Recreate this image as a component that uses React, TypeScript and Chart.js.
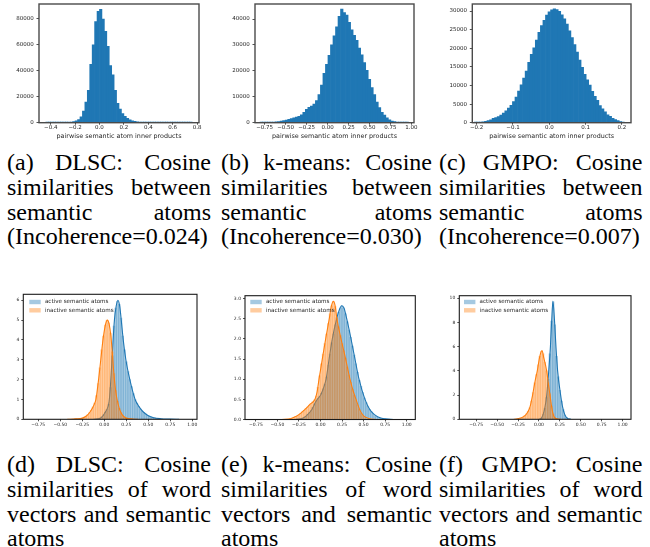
import { useEffect, useRef } from 'react';
import { Chart, registerables } from 'chart.js';

Chart.register(...registerables);

// ================= DATA =================
// (a) DLSC pairwise semantic atom inner products (bin centres start / width, counts)
const histAStart = -0.43;
const histAWidth = 0.02;
const histACounts = [
  200, 150, 150, 180, 200, 220, 260, 300, 340, 400,
  500, 800, 1500, 2400, 4500, 9000, 16000, 25000, 45000, 60000,
  78000, 86000, 87500, 80000, 70500, 59000, 44000, 37000, 25000, 15000,
  10500, 7000, 4900, 3300, 2200, 1500, 1000, 700, 500, 380,
  300, 250, 210, 180, 160, 140, 130, 120, 110, 100,
  100, 90, 90, 80, 80, 70, 70, 60, 60, 60,
];

// (b) k-means
const histBStart = -0.79;
const histBWidth = 0.03;
const histBCounts = [
  80, 100, 120, 150, 180, 250, 320, 450, 600, 800,
  1000, 1300, 1600, 1900, 2200, 2500, 3000, 4000, 5200, 5900,
  6400, 7200, 8500, 10800, 14500, 19000, 22500, 26000, 30000, 33500,
  37000, 41000, 43800, 42500, 41500, 38700, 35800, 33700, 31800, 28800,
  26200, 23200, 20200, 16700, 13500, 10800, 8000, 5800, 4000, 2900,
  1900, 1100, 650, 400, 250, 180, 130, 100, 80,
];

// (c) GMPO
const histCStart = -0.203;
const histCWidth = 0.007;
const histCCounts = [
  100, 120, 180, 250, 380, 560, 800, 1150, 1400, 1650,
  2050, 2600, 3200, 3900, 4700, 5700, 6900, 8500, 10200, 12000,
  13900, 16200, 18400, 20100, 22200, 24300, 26100, 27500, 28900, 29800,
  30300, 30600, 30400, 29900, 29000, 27900, 26500, 24700, 22900, 21000,
  19000, 16800, 14900, 13000, 11500, 10100, 8400, 7100, 6000, 4600,
  3700, 2900, 2100, 1700, 1200, 850, 550, 300, 150,
];

// (d) DLSC word vectors vs semantic atoms (density histograms + kde)
const histDStart = -0.33;
const histDWidth = 0.02;
const histDActiveFirst = 12;
const histDActive = [
  0.02, 0.03, 0.06, 0.12, 0.22, 0.35, 0.5, 0.75, 1.6, 3.2,
  4.7, 5.6, 5.95, 5.8, 5.1, 4.2, 3.5, 2.9, 2.4, 2.0,
  1.65, 1.3, 1.0, 0.82, 0.65, 0.52, 0.42, 0.34, 0.26, 0.2,
  0.16, 0.12, 0.09, 0.07, 0.05, 0.04, 0.03, 0.02,
];
const histDInactiveFirst = 0;
const histDInactive = [
  0.01, 0.02, 0.02, 0.03, 0.05, 0.08, 0.14, 0.22, 0.32, 0.45,
  0.62, 0.82, 1.2, 1.8, 2.6, 3.5, 4.2, 4.75, 5.0, 4.85,
  4.35, 3.4, 2.3, 1.45, 0.9, 0.55, 0.33, 0.18, 0.1, 0.06,
  0.04, 0.02, 0.01,
];
const kdeDActiveX = [-0.12, -0.06, -0.02, 0.01, 0.035, 0.055, 0.07, 0.085, 0.1, 0.115, 0.135, 0.155, 0.175, 0.195, 0.215, 0.245, 0.29, 0.35, 0.4, 0.44, 0.5, 0.56, 0.64, 0.75, 0.85];
const kdeDActiveY = [0, 0.03, 0.15, 0.35, 0.55, 0.9, 1.7, 2.8, 4.0, 5.0, 5.7, 6.0, 5.7, 4.9, 4.0, 3.0, 2.0, 1.0, 0.6, 0.38, 0.18, 0.08, 0.03, 0.01, 0];
const kdeDInactiveX = [-0.42, -0.32, -0.25, -0.2, -0.16, -0.12, -0.095, -0.065, -0.04, -0.015, 0.01, 0.034, 0.055, 0.075, 0.09, 0.1, 0.115, 0.13, 0.145, 0.17, 0.2, 0.24, 0.3, 0.38];
const kdeDInactiveY = [0, 0.02, 0.06, 0.18, 0.38, 0.7, 1.0, 2.0, 3.0, 4.0, 4.7, 5.0, 4.8, 4.2, 3.4, 2.8, 2.0, 1.4, 1.0, 0.55, 0.25, 0.08, 0.02, 0];

// (e) k-means
const histEStart = -0.35;
const histEWidth = 0.02;
const histEActiveFirst = 6;
const histEActive = [
  0.02, 0.03, 0.05, 0.08, 0.12, 0.17, 0.22, 0.3, 0.38, 0.46,
  0.52, 0.57, 0.65, 0.76, 0.88, 1.05, 1.35, 1.62, 1.9, 2.12,
  2.35, 2.52, 2.66, 2.76, 2.82, 2.77, 2.62, 2.42, 2.22, 2.04,
  1.82, 1.6, 1.38, 1.17, 0.97, 0.82, 0.67, 0.53, 0.42, 0.33,
  0.25, 0.19, 0.14, 0.1, 0.07, 0.05, 0.04, 0.03, 0.02, 0.015,
  0.01, 0.01,
];
const histEInactiveFirst = 0;
const histEInactive = [
  0.02, 0.03, 0.05, 0.07, 0.09, 0.12, 0.15, 0.19, 0.23, 0.27,
  0.31, 0.35, 0.39, 0.44, 0.49, 0.58, 0.8, 1.08, 1.38, 1.62,
  1.88, 2.12, 2.38, 2.62, 2.82, 2.92, 2.8, 2.52, 2.3, 2.08,
  1.88, 1.7, 1.52, 1.3, 1.1, 0.92, 0.75, 0.6, 0.48, 0.36,
  0.25, 0.16, 0.1, 0.05,
];
const kdeEActiveX = [-0.3, -0.2, -0.15, -0.1, -0.06, -0.03, 0.0, 0.03, 0.065, 0.1, 0.137, 0.188, 0.215, 0.246, 0.275, 0.304, 0.354, 0.4, 0.447, 0.516, 0.58, 0.67, 0.75, 0.85];
const kdeEActiveY = [0, 0.04, 0.12, 0.25, 0.42, 0.52, 0.6, 0.75, 1.0, 1.5, 2.0, 2.5, 2.7, 2.82, 2.75, 2.5, 2.0, 1.5, 1.0, 0.5, 0.22, 0.06, 0.015, 0];
const kdeEInactiveX = [-0.45, -0.35, -0.3, -0.25, -0.18, -0.12, -0.064, -0.04, -0.017, 0.021, 0.06, 0.102, 0.125, 0.149, 0.17, 0.19, 0.238, 0.292, 0.342, 0.38, 0.42, 0.46, 0.5, 0.56, 0.65];
const kdeEInactiveY = [0, 0.02, 0.06, 0.12, 0.25, 0.38, 0.5, 0.68, 1.0, 1.5, 2.0, 2.5, 2.8, 2.93, 2.82, 2.5, 2.0, 1.5, 1.0, 0.7, 0.45, 0.22, 0.09, 0.025, 0];

// (f) GMPO
const histFStart = -0.25;
const histFWidth = 0.02;
const histFActiveFirst = 14;
const histFActive = [0.1, 0.4, 0.9, 1.8, 3.3, 5.4, 8.1, 9.7, 7.8, 5.2, 3.5, 2.4, 1.5, 0.8, 0.35, 0.15, 0.06, 0.02];
const histFInactiveFirst = 0;
const histFInactive = [
  0.03, 0.06, 0.1, 0.18, 0.3, 0.45, 0.65, 0.95, 1.5, 2.2,
  3.0, 3.7, 4.5, 5.2, 5.6, 5.4, 4.7, 4.0, 3.0, 2.1,
  1.1, 0.45, 0.15, 0.05, 0.02,
];
const kdeFActiveX = [0.0, 0.03, 0.05, 0.072, 0.093, 0.117, 0.137, 0.151, 0.167, 0.187, 0.203, 0.223, 0.259, 0.283, 0.31, 0.34, 0.38];
const kdeFActiveY = [0, 0.1, 0.4, 1.0, 2.0, 4.0, 6.0, 8.0, 9.75, 8.0, 6.0, 4.0, 2.0, 1.0, 0.35, 0.08, 0];
const kdeFInactiveX = [-0.3, -0.22, -0.167, -0.13, -0.108, -0.076, -0.045, -0.02, 0.01, 0.036, 0.06, 0.092, 0.115, 0.132, 0.152, 0.17, 0.19, 0.22, 0.26];
const kdeFInactiveY = [0, 0.1, 0.3, 0.65, 1.0, 2.0, 3.2, 4.0, 5.2, 5.67, 5.0, 4.0, 2.8, 2.0, 1.0, 0.4, 0.12, 0.02, 0];

// tick values
const ticksAX = [-0.4, -0.2, 0, 0.2, 0.4, 0.6, 0.8];
const ticksAY = [0, 20000, 40000, 60000, 80000];
const ticksBX = [-0.75, -0.5, -0.25, 0, 0.25, 0.5, 0.75, 1.0];
const ticksBY = [0, 10000, 20000, 30000, 40000];
const ticksCX = [-0.2, -0.1, 0, 0.1, 0.2];
const ticksCY = [0, 5000, 10000, 15000, 20000, 25000, 30000];
const ticksBottomX = [-0.75, -0.5, -0.25, 0, 0.25, 0.5, 0.75, 1.0];
const ticksDY = [0, 1, 2, 3, 4, 5, 6];
const ticksEY = [0, 0.5, 1, 1.5, 2, 2.5, 3];
const ticksFY = [0, 2, 4, 6, 8, 10];

const xTitleTop = 'pairwise semantic atom inner products';
const legendLabels = ['active semantic atoms', 'inactive semantic atoms'];

const captionsTop = [
  ['(a) DLSC: Cosine', 'similarities between', 'semantic atoms', '(Incoherence=0.024)'],
  ['(b) k-means: Cosine', 'similarities between', 'semantic atoms', '(Incoherence=0.030)'],
  ['(c) GMPO: Cosine', 'similarities between', 'semantic atoms', '(Incoherence=0.007)'],
];
const captionsBottom = [
  ['(d) DLSC: Cosine', 'similarities of word', 'vectors and semantic', 'atoms'],
  ['(e) k-means: Cosine', 'similarities of word', 'vectors and semantic', 'atoms'],
  ['(f) GMPO: Cosine', 'similarities of word', 'vectors and semantic', 'atoms'],
];

// ================= STYLE =================
const BLUE = '#1f77b4';
const ORANGE = '#ff7f0e';
const BLUE_A = 'rgba(31,119,180,0.4)';
const ORANGE_A = 'rgba(255,127,14,0.4)';
const TXT = '#262626';
const FONT = "'DejaVu Sans', sans-serif";

const binCenter = (start: number, width: number, idx: number) =>
  Math.round((start + idx * width) * 1e6) / 1e6;

const toBars = (start: number, width: number, first: number, vals: number[]) =>
  vals.map((v, i) => ({ x: binCenter(start, width, first + i), y: v }));

const toPts = (xs: number[], ys: number[]) => xs.map((x, i) => ({ x, y: ys[i] }));

const fmt = (v: number, dec: number) => {
  const s = Math.abs(v).toFixed(dec);
  return (v < -1e-9 ? '\u2212' : '') + s;
};

const makeFrame = (color: string, width: number) => ({
  id: 'frame',
  afterDraw(chart: any) {
    const { ctx, chartArea } = chart;
    ctx.save();
    ctx.strokeStyle = color;
    ctx.lineWidth = width;
    ctx.strokeRect(chartArea.left, chartArea.top, chartArea.right - chartArea.left, chartArea.bottom - chartArea.top);
    ctx.restore();
  },
});

const makeLegend = (dx: number, dy: number) => ({
  id: 'inlegend',
  afterDraw(chart: any) {
    const { ctx, chartArea } = chart;
    const items = chart.data.datasets.filter((d: any) => d.isHist);
    ctx.save();
    ctx.font = `5.6px ${FONT}`;
    ctx.textBaseline = 'middle';
    ctx.textAlign = 'left';
    items.forEach((d: any, i: number) => {
      const cy = chartArea.top + dy + i * 8.3;
      const x = chartArea.left + dx;
      ctx.fillStyle = d.backgroundColor;
      ctx.fillRect(x, cy - 2.2, 11.4, 4.4);
      ctx.fillStyle = TXT;
      ctx.fillText(d.label, x + 15.6, cy);
    });
    ctx.restore();
  },
});

function xScale(o: any) {
  return {
    type: 'linear',
    min: o.min,
    max: o.max,
    offset: false,
    bounds: 'data',
    afterBuildTicks: (s: any) => {
      s.ticks = o.ticks.map((v: number) => ({ value: v }));
    },
    afterFit: (s: any) => {
      s.height = o.height;
      s.paddingLeft = 0;
      s.paddingRight = 0;
      s.paddingTop = 0;
      s.paddingBottom = 0;
    },
    ticks: {
      autoSkip: false,
      maxRotation: 0,
      minRotation: 0,
      padding: o.pad,
      color: TXT,
      font: { family: FONT, size: o.font, lineHeight: 1 },
      callback: (v: number) => fmt(v, o.dec),
    },
    grid: { display: true, offset: false, drawOnChartArea: false, drawTicks: true, tickLength: o.tick, tickColor: TXT, tickWidth: 0.8 },
    border: { display: false },
    title: o.title
      ? { display: true, text: o.title, color: TXT, font: { family: FONT, size: 6.4, lineHeight: 1.2 }, padding: { top: 0, bottom: o.titlePad } }
      : { display: false },
  };
}

function yScale(o: any) {
  return {
    type: 'linear',
    min: 0,
    max: o.max,
    bounds: 'data',
    afterBuildTicks: (s: any) => {
      s.ticks = o.ticks.map((v: number) => ({ value: v }));
    },
    afterFit: (s: any) => {
      s.width = o.width;
      s.paddingLeft = 0;
      s.paddingRight = 0;
      s.paddingTop = 0;
      s.paddingBottom = 0;
    },
    ticks: {
      autoSkip: false,
      padding: o.pad,
      color: TXT,
      font: { family: FONT, size: o.font, lineHeight: 1 },
      callback: (v: number) => fmt(v, o.dec),
    },
    grid: { display: true, drawOnChartArea: false, drawTicks: true, tickLength: o.tick, tickColor: TXT, tickWidth: 0.8 },
    border: { display: false },
  };
}

function topConfig(p: any) {
  return {
    type: 'bar',
    data: {
      datasets: [
        {
          label: 'counts',
          data: toBars(p.start, p.width, 0, p.counts),
          backgroundColor: BLUE,
          borderWidth: 0,
          barPercentage: 1,
          categoryPercentage: 1,
          grouped: false,
        },
      ],
    },
    options: {
      animation: false,
      responsive: false,
      events: [],
      layout: { padding: { left: 0, top: p.padTop, right: p.padRight, bottom: 0 } },
      plugins: { legend: { display: false }, tooltip: { enabled: false } },
      scales: {
        x: xScale({ min: p.xmin, max: p.xmax, ticks: p.xticks, dec: p.xdec, height: p.xh, pad: 0, tick: 2, font: 5.5, title: xTitleTop, titlePad: 4.6 }),
        y: yScale({ max: p.ymax, ticks: p.yticks, dec: 0, width: p.yw, pad: 2.8, tick: 2.5, font: 5.5 }),
      },
    },
    plugins: [makeFrame('#4a4a4a', 1.4)],
  };
}

function bottomConfig(p: any) {
  return {
    type: 'bar',
    data: {
      datasets: [
        {
          label: legendLabels[0],
          isHist: true,
          data: toBars(p.start, p.width, p.aFirst, p.aHist),
          backgroundColor: BLUE_A,
          borderWidth: 0,
          barPercentage: 1,
          categoryPercentage: 1,
          grouped: false,
          order: 4,
        },
        {
          type: 'line',
          label: 'active kde',
          data: toPts(p.aKx, p.aKy),
          borderColor: BLUE,
          borderWidth: 1.1,
          pointRadius: 0,
          fill: false,
          cubicInterpolationMode: 'monotone',
          order: 3,
        },
        {
          label: legendLabels[1],
          isHist: true,
          data: toBars(p.start, p.width, p.iFirst, p.iHist),
          backgroundColor: ORANGE_A,
          borderWidth: 0,
          barPercentage: 1,
          categoryPercentage: 1,
          grouped: false,
          order: 2,
        },
        {
          type: 'line',
          label: 'inactive kde',
          data: toPts(p.iKx, p.iKy),
          borderColor: ORANGE,
          borderWidth: 1.1,
          pointRadius: 0,
          fill: false,
          cubicInterpolationMode: 'monotone',
          order: 1,
        },
      ],
    },
    options: {
      animation: false,
      responsive: false,
      events: [],
      layout: { padding: { left: 0, top: p.padTop, right: p.padRight, bottom: 0 } },
      plugins: { legend: { display: false }, tooltip: { enabled: false } },
      scales: {
        x: xScale({ min: p.xmin, max: p.xmax, ticks: ticksBottomX, dec: 2, height: p.xh, pad: 1.4, tick: 2, font: 4.5 }),
        y: yScale({ max: p.ymax, ticks: p.yticks, dec: p.ydec, width: p.yw, pad: 2, tick: 2, font: 4.5 }),
      },
    },
    plugins: [makeFrame('#1a1a1a', 1.1), makeLegend(p.lx, p.ly)],
  };
}

// ================= LAYOUT =================
const topPanels = [
  { left: 0, w: 215, start: histAStart, width: histAWidth, counts: histACounts, xmin: -0.496, xmax: 0.816, xticks: ticksAX, xdec: 1, ymax: 91570, yticks: ticksAY, yw: 39, padRight: 16 },
  { left: 215, w: 215, start: histBStart, width: histBWidth, counts: histBCounts, xmin: -0.865, xmax: 1.031, xticks: ticksBX, xdec: 2, ymax: 45790, yticks: ticksBY, yw: 40, padRight: 16 },
  { left: 430, w: 220, start: histCStart, width: histCWidth, counts: histCCounts, xmin: -0.212, xmax: 0.225, xticks: ticksCX, xdec: 1, ymax: 31900, yticks: ticksCY, yw: 42.3, padRight: 19 },
];
const TOP_H = 145;

const bottomPanels = [
  {
    left: 0, w: 215, start: histDStart, width: histDWidth,
    aFirst: histDActiveFirst, aHist: histDActive, iFirst: histDInactiveFirst, iHist: histDInactive,
    aKx: kdeDActiveX, aKy: kdeDActiveY, iKx: kdeDInactiveX, iKy: kdeDInactiveY,
    xmin: -0.92, xmax: 1.053, ymax: 6.3, yticks: ticksDY, ydec: 0,
    yw: 23.3, padRight: 18, padTop: 9.3, xh: 20.7, lx: 6, ly: 7.7,
  },
  {
    left: 215, w: 215, start: histEStart, width: histEWidth,
    aFirst: histEActiveFirst, aHist: histEActive, iFirst: histEInactiveFirst, iHist: histEInactive,
    aKx: kdeEActiveX, aKy: kdeEActiveY, iKx: kdeEInactiveX, iKy: kdeEInactiveY,
    xmin: -0.876, xmax: 1.1, ymax: 3.07, yticks: ticksEY, ydec: 1,
    yw: 30, padRight: 14.7, padTop: 10.7, xh: 20.5, lx: 5.3, ly: 6.3,
  },
  {
    left: 430, w: 220, start: histFStart, width: histFWidth,
    aFirst: histFActiveFirst, aHist: histFActive, iFirst: histFInactiveFirst, iHist: histFInactive,
    aKx: kdeFActiveX, aKy: kdeFActiveY, iKx: kdeFInactiveX, iKy: kdeFInactiveY,
    xmin: -0.952, xmax: 1.1, ymax: 10.2, yticks: ticksFY, ydec: 0,
    yw: 29.3, padRight: 19, padTop: 10.7, xh: 20.7, lx: 4.7, ly: 6.3,
  },
];
const BOTTOM_TOP = 285;
const BOTTOM_H = 155;

const captionCols = [
  { left: 7, width: 204 },
  { left: 221, width: 211 },
  { left: 439, width: 203.5 },
];
const LINE_H = 24.7;
const CAP_TOP_Y = 162.7;
const CAP_BOTTOM_Y = 464.8;

function ChartBox({ left, top, width, height, build }: any) {
  const ref = useRef<HTMLCanvasElement>(null);
  useEffect(() => {
    const chart = new Chart(ref.current as HTMLCanvasElement, build() as any);
    return () => chart.destroy();
  }, []);
  return (
    <canvas
      ref={ref}
      width={width}
      height={height}
      style={{ position: 'absolute', left, top, width, height, display: 'block' }}
    />
  );
}

function Caption({ left, width, centerY, lines }: any) {
  return (
    <>
      {lines.map((t: string, i: number) => (
        <div
          key={i}
          style={{
            position: 'absolute',
            left,
            top: centerY + i * LINE_H - 12.5,
            width,
            height: 25,
            lineHeight: '25px',
            fontSize: 24,
            fontFamily: "'Liberation Serif', 'Times New Roman', serif",
            color: '#000',
            textAlign: 'justify',
            textAlignLast: i < lines.length - 1 ? 'justify' : 'left',
            whiteSpace: 'normal',
          }}
        >
          {t}
        </div>
      ))}
    </>
  );
}

export default function App() {
  return (
    <div style={{ position: 'absolute', left: 0, top: 0, width: 650, height: 547, background: '#fff', overflow: 'hidden' }}>
      {topPanels.map((p, i) => (
        <ChartBox
          key={'t' + i}
          left={p.left}
          top={0}
          width={p.w}
          height={TOP_H}
          build={() => topConfig({ ...p, padTop: 4, xh: TOP_H - 122.7 })}
        />
      ))}
      {bottomPanels.map((p, i) => (
        <ChartBox key={'b' + i} left={p.left} top={BOTTOM_TOP} width={p.w} height={BOTTOM_H} build={() => bottomConfig(p)} />
      ))}
      {captionsTop.map((lines, i) => (
        <Caption key={'ct' + i} left={captionCols[i].left} width={captionCols[i].width} centerY={CAP_TOP_Y} lines={lines} />
      ))}
      {captionsBottom.map((lines, i) => (
        <Caption key={'cb' + i} left={captionCols[i].left} width={captionCols[i].width} centerY={CAP_BOTTOM_Y} lines={lines} />
      ))}
    </div>
  );
}
